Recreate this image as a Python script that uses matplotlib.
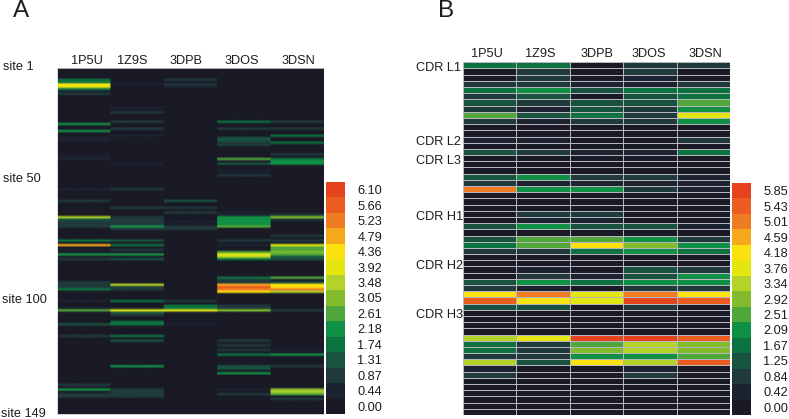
import numpy as np
import matplotlib
matplotlib.use("Agg")
import matplotlib.pyplot as plt
from matplotlib.colors import ListedColormap, BoundaryNorm

plt.rcParams['font.family'] = ['Liberation Sans', 'DejaVu Sans']
W, H = 789, 419
TEXT = '#1c1c1c'

structures = ['1P5U', '1Z9S', '3DPB', '3DOS', '3DSN']
levels_a = [0.00, 0.44, 0.87, 1.31, 1.74, 2.18, 2.61, 3.05, 3.48, 3.92, 4.36, 4.79, 5.23, 5.66, 6.10]
levels_b = [0.00, 0.42, 0.84, 1.25, 1.67, 2.09, 2.51, 2.92, 3.34, 3.76, 4.18, 4.59, 5.01, 5.43, 5.85]
palette = ['#1a1a26', '#1c2230', '#203a3c', '#18533f', '#0b7240', '#109044', '#4fa63a', '#82bc2c',
           '#b3d22a', '#e3e60f', '#fbe10f', '#f5a81c', '#ef7c22', '#ea5c20', '#e5421e']

# Panel A: site index (0-based) -> value, all other sites near zero
n_sites = 149
a_1p5u = {5: 1.8, 6: 1.8, 7: 4.2, 8: 3.9, 9: 1.7, 10: 0.4, 11: 0.8, 24: 2.2, 27: 2.3, 30: 0.4, 31: 0.4,
          38: 0.5, 39: 0.5, 52: 0.4, 57: 0.8, 64: 3.4, 65: 1.5, 66: 1.0, 67: 0.8, 68: 0.8, 74: 1.9, 76: 4.6,
          78: 0.6, 80: 2.0, 82: 1.0, 92: 0.8, 93: 0.8, 94: 0.8, 95: 1.6, 100: 0.4, 103: 0.6, 104: 2.6,
          110: 1.2, 115: 0.7, 136: 1.0, 138: 2.2, 140: 0.9, 141: 0.8}
a_1z9s = {7: 0.4, 17: 0.4, 19: 0.9, 23: 0.8, 26: 0.8, 29: 0.4, 41: 0.4, 52: 0.8, 60: 0.8, 64: 1.0, 65: 1.0,
          66: 0.8, 67: 0.8, 68: 2.0, 69: 0.8, 74: 1.2, 76: 1.7, 78: 1.0, 80: 2.0, 82: 1.2, 93: 3.4, 94: 0.9,
          95: 0.9, 100: 1.7, 103: 0.6, 104: 4.0, 105: 1.5, 106: 1.0, 109: 1.9, 110: 1.9, 115: 1.9, 117: 1.1,
          128: 2.2, 138: 1.0, 139: 0.8, 140: 0.9, 141: 0.8}
a_3dpb = {5: 0.8, 7: 0.8, 8: 0.4, 57: 1.2, 60: 0.8, 62: 0.8, 66: 0.6, 68: 0.9, 69: 0.8, 100: 0.9, 102: 1.8,
          103: 1.8, 104: 4.0, 105: 0.4, 110: 0.6}
a_3dos = {23: 1.7, 26: 0.8, 30: 1.2, 31: 1.2, 32: 0.8, 33: 0.8, 39: 2.4, 41: 1.2, 44: 0.4, 46: 0.8, 62: 0.6,
          63: 0.6, 64: 2.1, 65: 2.0, 66: 2.0, 67: 2.0, 68: 2.6, 74: 0.8, 76: 0.6, 79: 2.4, 80: 4.1, 81: 3.5,
          82: 1.9, 90: 1.9, 91: 0.9, 92: 0.9, 93: 4.9, 94: 5.6, 95: 5.3, 96: 4.3, 102: 1.0, 103: 0.8, 104: 3.0,
          117: 0.9, 119: 0.9, 121: 0.9, 123: 1.9, 128: 1.1, 129: 1.1, 131: 2.0, 138: 0.4, 140: 0.7}
a_3dsn = {23: 1.0, 26: 0.7, 29: 1.8, 32: 1.6, 37: 0.7, 39: 1.9, 40: 2.1, 41: 2.1, 63: 1.0, 64: 3.1, 65: 1.0,
          72: 0.7, 74: 1.0, 76: 4.1, 77: 2.4, 78: 2.4, 79: 3.0, 80: 2.6, 81: 1.3, 82: 1.3, 90: 2.7, 92: 1.5,
          93: 4.2, 94: 4.4, 95: 5.4, 96: 3.6, 104: 0.7, 121: 0.5, 123: 2.0, 128: 0.7, 138: 3.0, 139: 3.3,
          140: 2.7, 142: 0.9}
panel_a_cols = [a_1p5u, a_1z9s, a_3dpb, a_3dos, a_3dsn]

# Panel B: one value per row (CDR sites)
b_1p5u = [1.7, 0.2, 0.2, 0.8, 1.7, 0.9, 1.3, 0.9, 2.6, 0.8, 0.2, 0.2, 0.3, 0.2, 1.2, 0.1, 0.1, 0.1, 1.3, 1.0,
          4.9, 0.2, 0.2, 0.2, 0.2, 0.2, 1.2, 0.2, 1.2, 1.8, 0.8, 0.2, 0.2, 0.2, 0.2, 1.2, 0.9, 4.3, 5.4, 1.2,
          0.2, 0.2, 0.2, 0.2, 3.3, 1.7, 1.8, 0.7, 3.3, 0.5, 0.8, 0.2, 0.2, 0.2, 0.2, 0.2, 0.2]
b_1z9s = [1.7, 1.0, 0.8, 0.8, 2.0, 1.2, 0.9, 0.3, 1.2, 0.4, 0.2, 0.2, 0.3, 0.2, 0.8, 0.1, 0.1, 0.1, 2.1, 0.4,
          2.0, 0.2, 0.2, 0.2, 0.9, 0.4, 1.9, 0.2, 2.6, 2.6, 0.8, 0.2, 0.2, 0.3, 0.7, 2.0, 0.3, 5.0, 4.3, 1.2,
          0.2, 0.2, 0.2, 0.2, 3.9, 0.8, 0.8, 0.8, 1.2, 0.2, 0.2, 0.2, 0.2, 0.2, 0.2, 0.2, 0.2]
b_3dpb = [0.1, 0.1, 0.1, 0.3, 1.2, 0.2, 1.2, 1.3, 1.6, 0.8, 0.2, 0.2, 0.2, 0.2, 0.4, 0.1, 0.1, 0.1, 0.8, 0.3,
          2.0, 0.2, 0.2, 0.2, 0.8, 0.3, 1.2, 0.2, 2.6, 4.0, 1.8, 0.2, 0.2, 0.2, 0.3, 1.7, 0.1, 3.9, 3.9, 0.1,
          0.2, 0.2, 0.2, 0.2, 5.8, 2.5, 2.9, 2.0, 4.2, 0.2, 0.2, 0.2, 0.2, 0.2, 0.2, 0.2, 0.2]
b_3dos = [1.0, 1.0, 0.5, 0.5, 1.6, 1.2, 1.3, 0.9, 0.9, 0.8, 0.2, 0.2, 0.2, 0.2, 0.4, 0.1, 0.1, 0.1, 0.8, 0.3,
          0.8, 0.2, 0.2, 0.2, 0.2, 0.2, 1.2, 0.2, 2.0, 3.0, 2.2, 0.2, 0.2, 1.2, 1.3, 2.0, 0.9, 5.1, 5.8, 0.9,
          0.2, 0.2, 0.2, 0.2, 5.8, 3.3, 3.3, 2.0, 3.3, 0.4, 0.8, 0.2, 0.2, 0.2, 0.2, 0.2, 0.2]
b_3dsn = [0.7, 0.2, 0.2, 0.8, 1.7, 1.7, 2.6, 2.1, 3.9, 2.1, 0.2, 0.2, 0.8, 0.2, 1.7, 0.1, 0.1, 0.1, 0.3, 0.3,
          0.3, 0.2, 0.2, 0.2, 0.2, 0.2, 0.3, 0.2, 0.9, 2.0, 1.7, 0.2, 0.2, 0.9, 1.9, 2.0, 1.0, 4.3, 5.4, 0.2,
          0.2, 0.2, 0.2, 0.2, 5.4, 2.9, 2.9, 2.5, 5.4, 0.2, 0.2, 0.2, 0.2, 0.2, 0.2, 0.2, 0.2]
panel_b_cols = [b_1p5u, b_1z9s, b_3dpb, b_3dos, b_3dsn]

site_labels = ['site 1', 'site 50', 'site 100', 'site 149']
cdr_labels = ['CDR L1', 'CDR L2', 'CDR L3', 'CDR H1', 'CDR H2', 'CDR H3']


def axes_px(x0, y0, x1, y1):
    return fig.add_axes([x0 / W, 1 - y1 / H, (x1 - x0) / W, (y1 - y0) / H])


def text_px(x, y, s, size=9.2, ha='left', **kw):
    fig.text(x / W, 1 - y / H, s, fontsize=size, ha=ha, va='center', color=TEXT, **kw)


def binned(levels):
    lv = np.array(levels)
    edges = np.concatenate([[lv[0] - 1], (lv[:-1] + lv[1:]) / 2, [lv[-1] + 1]])
    return ListedColormap(palette), BoundaryNorm(edges, len(palette))


def colorbar(x0, y0, x1, y1, levels):
    cmap, norm = binned(levels)
    ax = axes_px(x0, y0, x1, y1)
    ax.pcolormesh(np.array(levels)[:, None], cmap=cmap, norm=norm)
    ax.set_xticks([])
    ax.yaxis.tick_right()
    ax.set_yticks(np.arange(len(levels)) + 0.5)
    ax.set_yticklabels([f'{v:.2f}' for v in levels], fontsize=9.2, color=TEXT)
    ax.tick_params(axis='y', length=0, pad=9)
    for s in ax.spines.values():
        s.set_visible(False)


fig = plt.figure(figsize=(W / 100, H / 100), dpi=100, facecolor='white')

# Panel A (columns repeated so the vertical softening of the rows stays inside each column)
mat_a = np.zeros((n_sites, len(structures)))
for c, col in enumerate(panel_a_cols):
    for site, val in col.items():
        mat_a[site, c] = val
cmap_a, norm_a = binned(levels_a)
ax_a = axes_px(57, 68, 324, 414)
ax_a.imshow(np.repeat(mat_a, 53, axis=1), aspect='auto', cmap=cmap_a, norm=norm_a,
            interpolation='bilinear', interpolation_stage='rgba')
ax_a.set_xticks([])
ax_a.set_yticks([])
for name, s in ax_a.spines.items():
    s.set_color('#c8c8c8' if name in ('top', 'bottom') else 'white')
    s.set_linewidth(0.6)
colorbar(326, 182, 345, 414, levels_a)

# Panel B
mat_b = np.array(panel_b_cols, dtype=float).T
cmap_b, norm_b = binned(levels_b)
ax_b = axes_px(463, 62.3, 730, 415)
ax_b.pcolormesh(mat_b, cmap=cmap_b, norm=norm_b, edgecolors='#b6b6bc', linewidth=0.6)
ax_b.invert_yaxis()
ax_b.set_xticks([])
ax_b.set_yticks([])
for s in ax_b.spines.values():
    s.set_visible(False)
colorbar(732, 183, 751, 415, levels_b)

# Text
text_px(13, 11, 'A', size=17.5)
text_px(438, 11, 'B', size=17.5)
for x, s in zip([87, 132, 186, 242, 298], structures):
    text_px(x, 61, s, ha='center')
for x, s in zip([487, 540, 597, 649, 705], structures):
    text_px(x, 54, s, ha='center')
for x, y, s in zip([3, 3, 2, 1], [67.5, 179, 300, 414], site_labels):
    text_px(x, y, s)
for y, s in zip([68, 142, 161, 217, 266, 315], cdr_labels):
    text_px(415.5, y, s)

fig.savefig('out.png', dpi=100, facecolor='white')
